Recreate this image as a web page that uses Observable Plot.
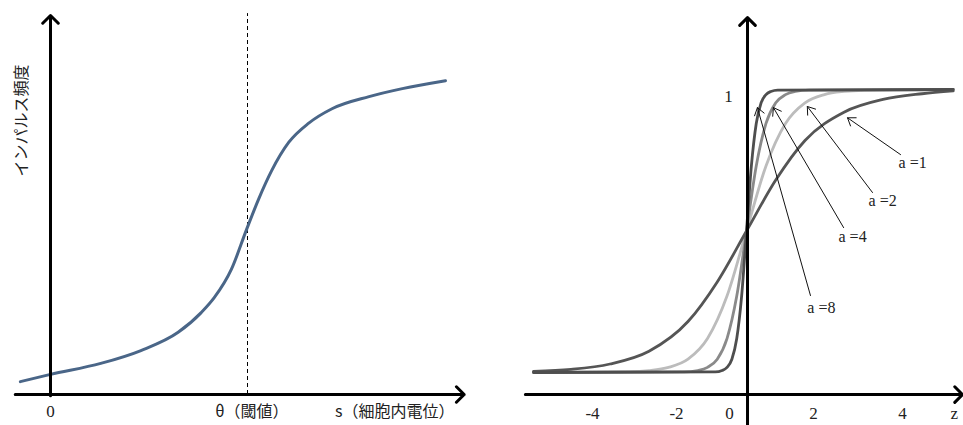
<!DOCTYPE html>
<html><head><meta charset="utf-8">
<script src="https://cdn.jsdelivr.net/npm/d3@7"></script>
<script src="https://cdn.jsdelivr.net/npm/@observablehq/plot@0.6"></script>
<style>
body{margin:0;background:#fff;}
#wrap{display:flex;width:963px;height:425px;overflow:hidden;}
svg{display:block;overflow:visible;}
</style></head><body><div id="wrap"></div>
<script>
// ---------- Left panel: impulse frequency vs. membrane potential ----------
const sValues    = [-1.53, 0, 2.55, 4.59, 6.48, 7.65, 8.32, 9.18, 9.95, 10.56, 11.22, 12.09, 13.11, 14.29, 16.17, 17.86, 20.05];
const rateValues = [3.4, 5.3, 8.2, 11.6, 16.4, 21.6, 25.6, 33.0, 43.5, 51.5, 59.0, 66.5, 71.6, 75.4, 78.6, 80.7, 82.8];
const theta = 10;
const sExtent = [-1.79, 21.0];
const rateExtent = [-0.3, 100];
const leftYLabel = "インパルス頻度";
const leftXLabels = ["0", "θ（閾値）", "s（細胞内電位）"];
const leftXLabelPos = [0, 8.36, 14.44];

// ---------- Right panel: sigmoid for several gains a ----------
const gains = ["a =1", "a =2", "a =4", "a =8"];
const z1 = [-5.46, -4.5, -3.5, -2.5, -1.5, -0.75, 0, 0.75, 1.5, 2.5, 3.5, 4.5, 5.3];
const v1 = [0.004, 0.011, 0.03, 0.075, 0.18, 0.32, 0.5, 0.68, 0.82, 0.92, 0.965, 0.985, 0.995];
const z2 = [-5.46, -3, -2.5, -2, -1.5, -1, -0.5, 0, 0.5, 1, 1.5, 2, 2.5, 3, 5.3];
const v2 = [0, 0.003, 0.007, 0.018, 0.047, 0.12, 0.27, 0.5, 0.73, 0.88, 0.953, 0.982, 0.993, 0.997, 1];
const z4 = [-5.46, -1.6, -1.25, -1, -0.75, -0.5, -0.25, 0, 0.25, 0.5, 0.75, 1, 1.25, 1.6, 5.3];
const v4 = [0, 0.002, 0.007, 0.018, 0.047, 0.12, 0.27, 0.5, 0.73, 0.88, 0.953, 0.982, 0.993, 0.998, 1];
const z8 = [-5.46, -0.8, -0.625, -0.5, -0.375, -0.25, -0.125, 0, 0.125, 0.25, 0.375, 0.5, 0.625, 0.8, 5.3];
const v8 = [0, 0.002, 0.007, 0.018, 0.047, 0.12, 0.27, 0.5, 0.73, 0.88, 0.953, 0.982, 0.993, 0.998, 1];
const curveColors = {"a =1": "#555", "a =2": "#bcbcbc", "a =4": "#8a8a8a", "a =8": "#4e4e4e"};
const zTicks = [-4, -2, 0, 2, 4];
const zTickShift = [2, 8, -17, -11, 0];
const zExtent = [-5.67, 5.54];
const vAxisPos = -0.078;
const vExtent = [-0.19, 1.254];
// annotation pointers
const labelZ = [4.26, 3.49, 2.72, 1.92];
const labelV = [0.74, 0.608, 0.48, 0.23];
const tailZ  = [3.95, 3.23, 2.49, 1.64];
const tailV  = [0.77, 0.636, 0.512, 0.272];
const tipZ   = [2.59, 1.56, 0.69, 0.28];
const tipV   = [0.90, 0.94, 0.936, 0.936];

const numFont = "Liberation Serif, DejaVu Serif, serif";
const jpFont = "Noto Sans CJK JP, sans-serif";

// ---- build left ----
const leftData = sValues.map((s, i) => ({s, r: rateValues[i]}));
const left = Plot.plot({
  width: 480, height: 425, margin: 0,
  x: {domain: [0, theta], range: [50, 247], axis: null},
  y: {domain: [0, 100], range: [394, 15], axis: null},
  marks: [
    Plot.ruleX([theta], {y1: 0, y2: 100.5, stroke: "#000", strokeWidth: 1, strokeDasharray: "4,3"}),
    Plot.line(leftData, {x: "s", y: "r", stroke: "#4a6688", strokeWidth: 3, curve: "monotone-x", strokeLinecap: "round"}),
    Plot.arrow([{a: sExtent[0], b: 0, c: sExtent[1], d: 0}], {x1: "a", y1: "b", x2: "c", y2: "d", stroke: "#000", strokeWidth: 3, headAngle: 90, headLength: 5.5}),
    Plot.arrow([{a: 0, b: rateExtent[0], c: 0, d: rateExtent[1]}], {x1: "a", y1: "b", x2: "c", y2: "d", stroke: "#000", strokeWidth: 3, headAngle: 90, headLength: 5.5}),
    Plot.text([leftXLabels[0]], {x: leftXLabelPos[0], y: 0, text: d => d, dy: 17, fontFamily: numFont, fontSize: 17, fill: "#222"}),
    Plot.text(leftXLabels.slice(1), {x: (d, i) => leftXLabelPos[i + 1], y: 0, text: d => d, dy: 17, textAnchor: "start", fontFamily: jpFont, fontSize: 16, fill: "#222"}),
    Plot.text([leftYLabel], {x: -1.43, y: 72.3, text: d => d, rotate: -90, fontFamily: jpFont, fontSize: 16, fill: "#222"})
  ]
});

// ---- build right ----
const series = [[gains[1], z2, v2], [gains[2], z4, v4], [gains[0], z1, v1], [gains[3], z8, v8]];
const curveData = series.flatMap(([g, zs, vs]) => zs.map((z, i) => ({g, z, v: vs[i]})));
const annot = gains.map((g, i) => ({g, lz: labelZ[i], lv: labelV[i], tz: tailZ[i], tv: tailV[i], hz: tipZ[i], hv: tipV[i]}));
const tickData = zTicks.map((t, i) => ({t, shift: zTickShift[i]}));

const right = Plot.plot({
  width: 483, height: 425, margin: 0,
  x: {domain: [-5, 5], range: [71, 461], axis: null},
  y: {domain: [0, 1], range: [372, 89], axis: null},
  marks: [
    ...series.map(([g]) => Plot.line(curveData.filter(d => d.g === g), {x: "z", y: "v", stroke: curveColors[g], strokeWidth: 2.8, curve: "monotone-x"})),
    Plot.arrow([{a: zExtent[0], b: vAxisPos, c: zExtent[1], d: vAxisPos}], {x1: "a", y1: "b", x2: "c", y2: "d", stroke: "#000", strokeWidth: 3, headAngle: 90, headLength: 5.5}),
    Plot.arrow([{a: 0.026, b: vExtent[0], c: 0.026, d: vExtent[1]}], {x1: "a", y1: "b", x2: "c", y2: "d", stroke: "#000", strokeWidth: 3, headAngle: 90, headLength: 5.5}),
    Plot.arrow(annot, {x1: "tz", y1: "tv", x2: "hz", y2: "hv", stroke: "#111", strokeWidth: 1, headAngle: 70, headLength: 13}),
    Plot.text(annot, {x: "lz", y: "lv", text: "g", fontFamily: numFont, fontSize: 16, fill: "#222"}),
    ...tickData.map(d => Plot.text([d], {x: "t", y: vAxisPos, text: d => String(d.t), dx: d.shift, dy: 19, fontFamily: numFont, fontSize: 17, fill: "#222"})),
    Plot.text(["z"], {x: 5.33, y: vAxisPos, text: d => d, dy: 19, fontFamily: numFont, fontSize: 17, fill: "#222"}),
    Plot.text(["1"], {x: 0, y: 1, text: d => d, dx: -18, dy: 7, fontFamily: numFont, fontSize: 17, fill: "#222"})
  ]
});

document.getElementById("wrap").append(left, right);
</script>
</body></html>
